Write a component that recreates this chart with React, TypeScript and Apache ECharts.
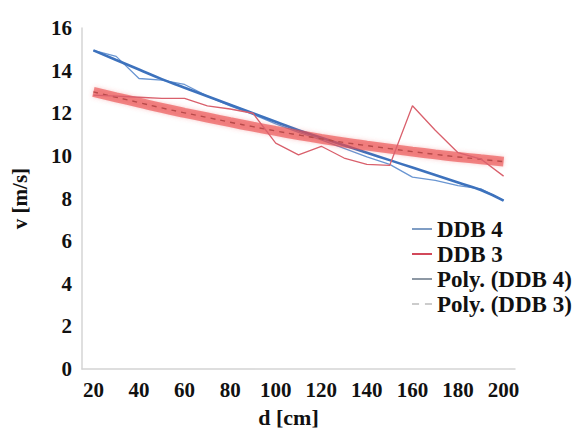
import React, { useEffect, useRef } from "react";
import * as echarts from "echarts";

const categories = ["20","30","40","50","60","70","80","90","100","110","120","130","140","150","160","170","180","190","200"];
const ddb4 = [14.95,14.67,13.63,13.55,13.35,12.8,12.35,11.95,11.5,11.1,10.75,10.35,9.95,9.6,9.0,8.85,8.6,8.45,7.9];
const ddb3 = [12.85,12.8,12.75,12.7,12.7,12.35,12.2,12.0,10.6,10.05,10.45,9.9,9.6,9.55,12.35,11.2,10.15,9.85,9.05];
const polyDdb4 = [14.95,14.5,14.05,13.6,13.2,12.8,12.4,12.0,11.6,11.2,10.85,10.5,10.15,9.8,9.45,9.1,8.75,8.4,7.9];
const polyDdb3 = [13.0,12.75,12.5,12.25,12.02,11.8,11.58,11.37,11.17,10.98,10.8,10.63,10.48,10.34,10.2,10.07,9.95,9.84,9.73];

const FONT = "Liberation Serif, Times New Roman, Times, DejaVu Serif, serif";

export default function App() {
  const ref = useRef<HTMLDivElement>(null);
  useEffect(() => {
    if (!ref.current) return;
    const chart = echarts.init(ref.current, undefined, { renderer: "svg" });
    chart.setOption({
      animation: false,
      backgroundColor: "#ffffff",
      textStyle: { fontFamily: FONT },
      grid: { left: 82, right: 61, top: 28, bottom: 64, containLabel: false, outerBoundsMode: "none" },
      xAxis: {
        type: "category",
        data: categories,
        boundaryGap: true,
        name: "d [cm]",
        nameLocation: "middle",
        nameGap: 37,
        nameTextStyle: { fontFamily: FONT, fontWeight: "bold", fontSize: 22, color: "#111", padding: [0, 20, 0, 0] },
        axisLine: { lineStyle: { color: "#d4d4d4", width: 1.5 } },
        axisTick: { show: false },
        axisLabel: { interval: 1, margin: 10, fontFamily: FONT, fontWeight: "bold", fontSize: 21, color: "#111" },
        splitLine: { show: false },
      },
      yAxis: {
        type: "value",
        min: 0,
        max: 16,
        interval: 2,
        name: "v [m/s]",
        nameLocation: "middle",
        nameGap: 52,
        nameRotate: 90,
        nameTextStyle: { fontFamily: FONT, fontWeight: "bold", fontSize: 21, color: "#111" },
        axisLine: { show: true, lineStyle: { color: "#d4d4d4", width: 1.5 } },
        axisTick: { show: false },
        axisLabel: { margin: 10, fontFamily: FONT, fontWeight: "bold", fontSize: 21, color: "#111" },
        splitLine: { show: false },
      },
      legend: {
        orient: "vertical",
        left: 407,
        top: 212,
        itemWidth: 20,
        itemHeight: 2,
        itemGap: 1,
        textStyle: { fontFamily: FONT, fontWeight: "bold", fontSize: 23, color: "#111", lineHeight: 24 },
        data: [
          { name: "DDB 4", icon: "rect", itemStyle: { color: "#7f9dc4" } },
          { name: "DDB 3", icon: "rect", itemStyle: { color: "#d2485a" } },
          { name: "Poly. (DDB 4)", icon: "rect", itemStyle: { color: "#8d98a4" } },
          { name: "Poly. (DDB 3)", icon: "path://M0,0 H6 V1 H0 Z M11,0 H17 V1 H11 Z", itemStyle: { color: "#9a9a9a" } },
        ],
      },
      series: [
        {
          name: "DDB 4",
          type: "line",
          data: ddb4,
          showSymbol: false,
          lineStyle: { color: "#6a96d2", width: 1.3 },
          itemStyle: { color: "#6a96d2" },
          z: 2,
        },
        {
          name: "Poly. (DDB 4)",
          type: "line",
          data: polyDdb4,
          showSymbol: false,
          smooth: true,
          lineStyle: { color: "#3d72bd", width: 2.6 },
          itemStyle: { color: "#3d72bd" },
          z: 3,
        },
        {
          name: "Poly band",
          type: "line",
          data: polyDdb3,
          showSymbol: false,
          smooth: true,
          lineStyle: { color: "rgba(234,74,74,0.62)", width: 10, shadowBlur: 4, shadowColor: "rgba(236,82,82,0.5)" },
          itemStyle: { color: "rgba(234,74,74,0.62)" },
          z: 4,
        },
        {
          name: "Poly. (DDB 3)",
          type: "line",
          data: polyDdb3,
          showSymbol: false,
          smooth: true,
          lineStyle: { color: "#b84a4a", width: 1.4, type: [5, 5] },
          itemStyle: { color: "#b84a4a" },
          z: 5,
        },
        {
          name: "DDB 3",
          type: "line",
          data: ddb3,
          showSymbol: false,
          lineStyle: { color: "#d9606c", width: 1.3 },
          itemStyle: { color: "#d9606c" },
          z: 6,
        },
      ],
    });
    return () => chart.dispose();
  }, []);
  return <div ref={ref} style={{ width: 576, height: 433, position: "absolute", left: 0, top: 0 }} />;
}
